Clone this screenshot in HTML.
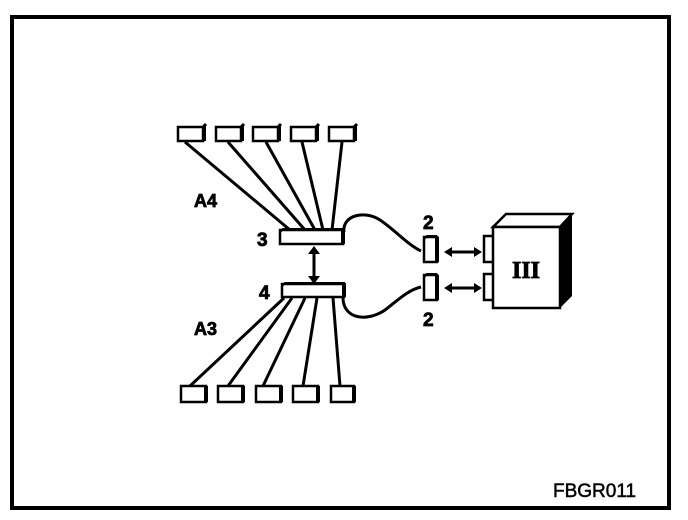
<!DOCTYPE html>
<html><head><style>body{margin:0;background:#fff}svg{display:block}</style></head><body>
<svg width="688" height="520" viewBox="0 0 688 520" xmlns="http://www.w3.org/2000/svg">
<rect x="12" y="17" width="657" height="491" fill="none" stroke="#000" stroke-width="4"/>
<g fill="#fff" stroke="#000" stroke-width="2.5">
<rect x="178" y="127" width="25" height="14"/><rect x="216" y="127" width="25" height="14"/><rect x="253" y="127" width="25" height="14"/><rect x="291" y="127" width="25" height="14"/><rect x="329" y="127" width="25" height="14"/>
<rect x="181" y="386" width="25" height="16"/><rect x="218" y="386" width="25" height="16"/><rect x="256" y="386" width="25" height="16"/><rect x="293" y="386" width="25" height="16"/><rect x="331" y="386" width="23" height="16"/>
</g>
<g stroke="#000" stroke-width="3" fill="none">
<path d="M203,127 l3,-3 M241,127 l3,-3 M278,127 l3,-3 M316,127 l3,-3 M354,127 l3,-3"/>
<path d="M204,126 V141 M242,126 V141 M279,126 V141 M317,126 V141 M355,126 V141" stroke-width="4"/>
<path d="M206,386 V402 M243,386 V402 M281,386 V402 M318,386 V402 M354,386 V402" stroke-width="4"/>
<path d="M185,142 L290,230 M228,142 L305,230 M266,142 L315,230 M302,142 L323,230 M342,142 L332,230"/>
<path d="M284,298 L190,386 M292,298 L228,386 M305,298 L263,386 M317,298 L303,386 M333,298 L340,386"/>
<path d="M344,232 C342,215 365,210 380,220 C395,230 408,245 421,251"/>
<path d="M343,296 C342,320 368,322 385,310 C398,300 408,290 421,287"/>
<path d="M314,250 L314,280"/>
<path d="M448,252 L478,252 M448,288 L478,288"/>
</g>
<g fill="#000">
<polygon points="308,254 314,246 320,254"/><polygon points="308,276 314,284 320,276"/>
<polygon points="444,252 452,247 452,257"/><polygon points="482,252 474,247 474,257"/>
<polygon points="444,288 452,283 452,293"/><polygon points="482,288 474,283 474,293"/>
</g>
<g fill="#fff" stroke="#000" stroke-width="2.5">
<rect x="280" y="230" width="63" height="14"/>
<rect x="282" y="284" width="62" height="13"/>
<rect x="424" y="237" width="13" height="25"/>
<rect x="424" y="275" width="13" height="25"/>
<rect x="484" y="236" width="10" height="26"/>
<rect x="484" y="274" width="10" height="26"/>
<polygon points="493,227 506,214 572,214 560,227"/>
<rect x="493" y="227" width="67" height="81"/>
</g>
<polygon points="560,227 572,214 572,296 560,308" fill="#000"/>
<path d="M280,232 l3,-3 h60 M282,286 l3,-3 h60 M424,239 l3,-3 h10 M424,277 l3,-3 h10" stroke="#000" stroke-width="2" fill="none"/>
<path d="M343,229 V244 M344,283 V297 M437,237 V262 M437,275 V300" stroke="#000" stroke-width="4"/>
<g font-family="Liberation Sans, sans-serif" font-weight="bold" fill="#000" stroke="#000" stroke-width="0.8">
<text x="194" y="207" font-size="18">A4</text>
<text x="194" y="335" font-size="18">A3</text>
<text x="257" y="246" font-size="19">3</text>
<text x="259" y="299" font-size="19">4</text>
<text x="423" y="229" font-size="19">2</text>
<text x="423" y="326" font-size="19">2</text>
<text x="512" y="278" font-size="24" font-family="Liberation Serif, serif">III</text>
</g>
<text x="553" y="497" font-size="19" font-family="Liberation Sans, sans-serif" fill="#000" stroke="#000" stroke-width="0.5">FBGR011</text>
</svg>
</body></html>
